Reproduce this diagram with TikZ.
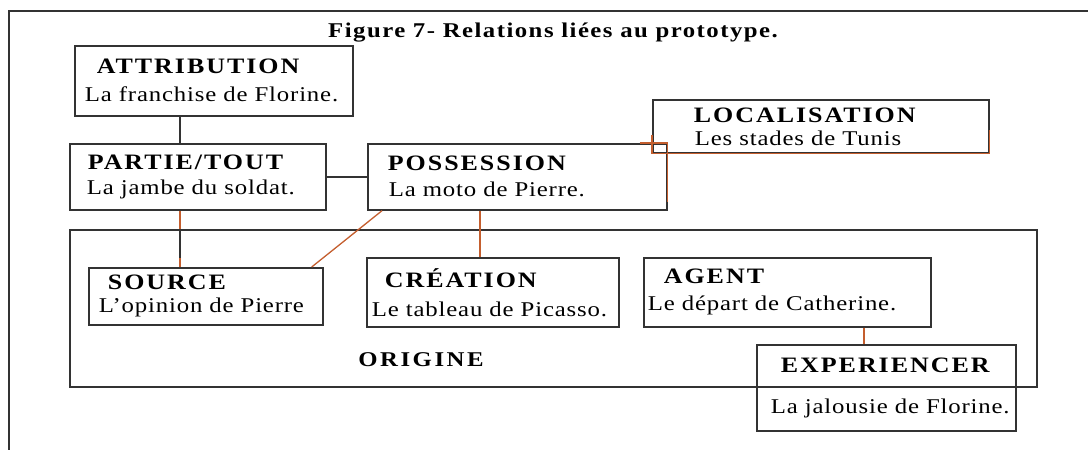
\documentclass[tikz,border=0pt]{standalone}
\usepackage{fontspec}
\setmainfont{Liberation Serif}[FakeStretch=1.18,LetterSpace=4]
\usetikzlibrary{calc,positioning}

\definecolor{rouille}{RGB}{196,94,46}
\newcommand{\titrerel}[1]{{\fontsize{22}{25}\selectfont\bfseries\addfontfeature{LetterSpace=9}#1}}

\tikzset{
	boite/.style={draw=black!80, line width=1.7pt, rectangle, anchor=north west, inner sep=0pt, align=left, font=\fontsize{21}{25}\selectfont},
	lien/.style={draw=black!80, line width=1.5pt},
	lienr/.style={draw=rouille, line width=1.3pt}
}

\begin{document}
\begin{tikzpicture}[x=1pt,y=-1pt]
	\useasboundingbox (0,0) rectangle (1088,450);
	\draw[lien] (9,450)--(9,11)--(1088,11);
	\node[anchor=base, font=\fontsize{21}{25}\selectfont\bfseries\addfontfeature{LetterSpace=7}] (titre) at (553,37) {Figure 7- Relations liées au prototype.};
	
	% le cadre de l'origine
	\node[draw=black!80, line width=1.7pt, anchor=north west, minimum width=967pt, minimum height=157pt, inner sep=0pt] (orig) at (69,229) {};
	\node[anchor=base, font=\fontsize{21}{25}\selectfont\bfseries\addfontfeature{LetterSpace=12}] (origtxt) at (421,366) {ORIGINE};
	
	\node[boite, text width=278pt, minimum height=70pt] (attr) at (74,45) {\hspace*{22pt}\titrerel{ATTRIBUTION}\\[3pt]\hspace*{10pt}La franchise de Florine.};
	\node[boite, text width=256pt, minimum height=66pt] (partie) at (69,143) {\hspace*{18pt}\titrerel{PARTIE/TOUT}\\[0pt]\hspace*{17pt}La jambe du soldat.};
	\node[boite, text width=299pt, minimum height=66pt] (poss) at (367,143) {\hspace*{20pt}\titrerel{POSSESSION}\\[1pt]\hspace*{21pt}La moto de Pierre.};
	\node[boite, text width=336pt, minimum height=53pt] (loc) at (652,99) {\hspace*{41pt}\titrerel{LOCALISATION}\\[-2pt]\hspace*{42pt}Les stades de Tunis};
	\node[boite, text width=234pt, minimum height=57pt] (source) at (88,267) {\hspace*{19pt}\titrerel{SOURCE}\\[-2pt]\hspace*{10pt}L’opinion de Pierre};
	\node[boite, text width=252pt, minimum height=69pt] (creation) at (366,257) {\hspace*{18pt}\titrerel{CRÉATION}\\[4pt]\hspace*{5pt}Le tableau de Picasso.};
	\node[boite, text width=287pt, minimum height=69pt] (agent) at (643,257) {\hspace*{20pt}\titrerel{AGENT}\\[2pt]\hspace*{4pt}Le départ de Catherine.};
	\node[boite, text width=259pt, minimum height=86pt] (exper) at (756,344) {\hspace*{24pt}\titrerel{EXPERIENCER}\\[16pt]\hspace*{14pt}La jalousie de Florine.};
	
	\coordinate (xa) at (180,0);
	\coordinate (xb) at (480,0);
	\coordinate (xc) at (864,0);
	
	\draw[lien] (attr.south -| xa)--(partie.north -| xa);
	\draw[lien] (partie)--(poss);
	\draw[lienr] (partie.south -| xa)--(orig.north -| xa);
	\draw[lien] (orig.north -| xa)--++(0,29);
	\draw[lienr] (source.north -| xa)--++(0,-9);
	\draw[lienr] ($(poss.south west)+(15,0)$)--($(source.north east)+(-12,0)$);
	\draw[lienr] (poss.south -| xb)--(creation.north -| xb);
	\draw[lienr] ($(poss.north east)+(-28,0)$)--(poss.north east)--($(poss.south east)+(0,-9)$);
	\draw[lienr] ($(loc.south west)+(0,-19)$)--(loc.south west)--(loc.south east)--($(loc.south east)+(0,-24)$);
	\draw[lienr] (agent.south -| xc)--(exper.north -| xc);
\end{tikzpicture}
\end{document}
